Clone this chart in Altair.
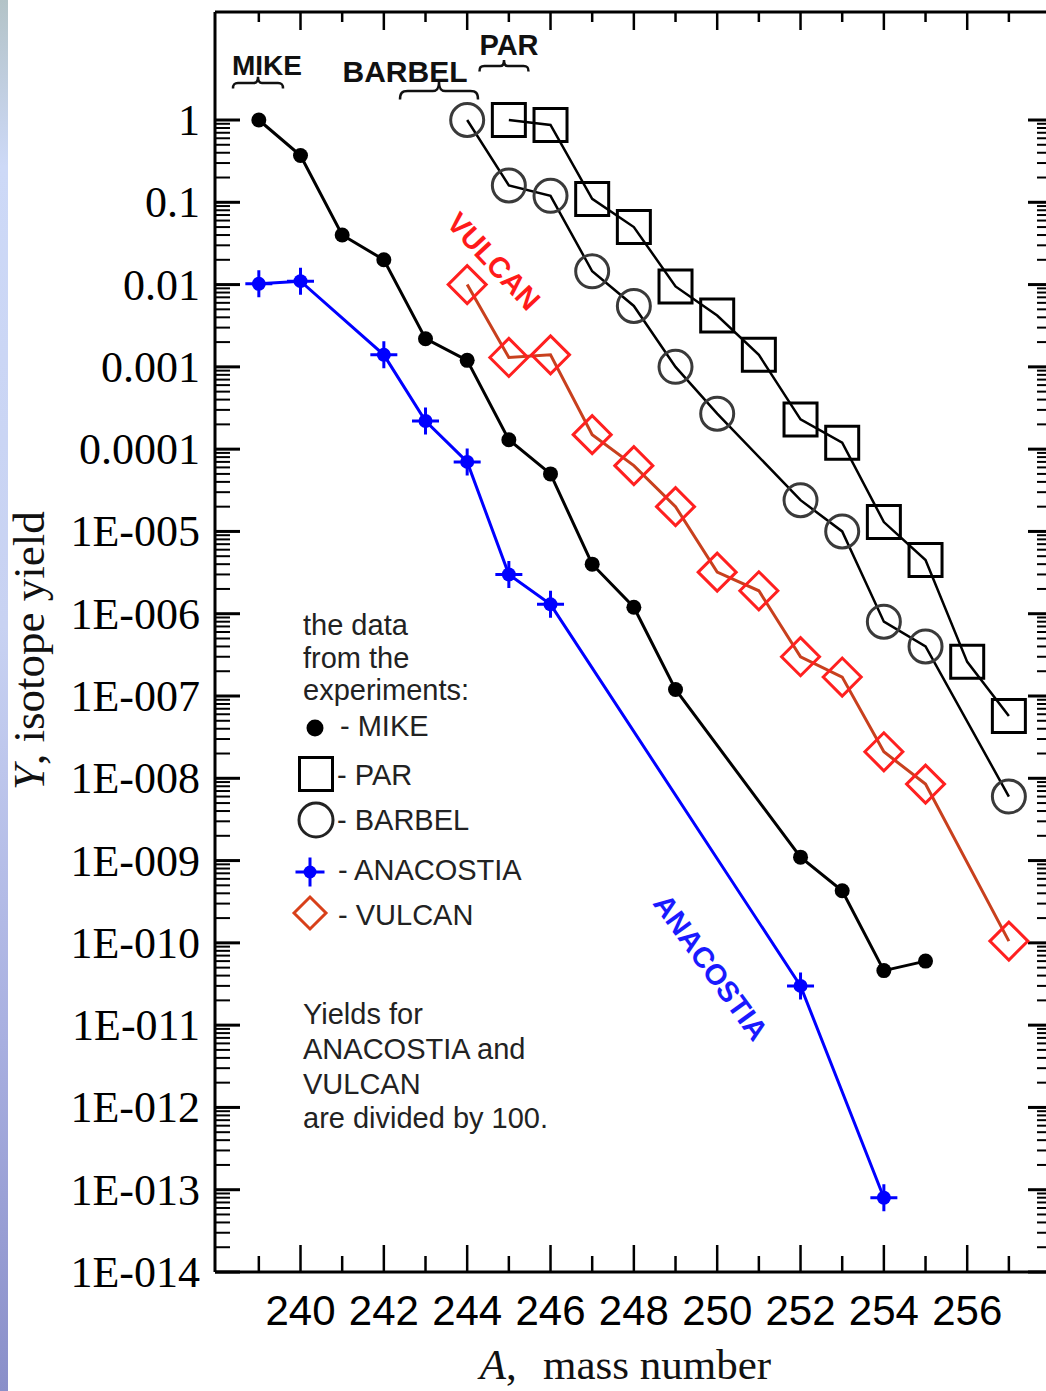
import altair as alt
import pandas as pd

# ---------------- data ----------------
mike_A = [239, 240, 241, 242, 243, 244, 245, 246, 247, 248, 249, 252, 253, 254, 255]
mike_Y = [1.0, 0.37, 0.04, 0.02, 0.0022, 0.0012, 1.3e-4, 5.0e-5, 4.0e-6, 1.2e-6, 1.2e-7,
          1.1e-9, 4.3e-10, 4.6e-11, 6.0e-11]

par_A = [245, 246, 247, 248, 249, 250, 251, 252, 253, 254, 255, 256, 257]
par_Y = [1.0, 0.87, 0.11, 0.05, 0.0095, 0.0042, 0.0014, 2.3e-4, 1.2e-4, 1.3e-5, 4.5e-6,
         2.6e-7, 5.7e-8]

barbel_A = [244, 245, 246, 247, 248, 249, 250, 252, 253, 254, 255, 257]
barbel_Y = [1.0, 0.16, 0.12, 0.0145, 0.0055, 0.001, 2.7e-4, 2.4e-5, 1.0e-5, 8.0e-7, 4.0e-7,
            6.0e-9]

anacostia_A = [239, 240, 242, 243, 244, 245, 246, 252, 254]
anacostia_Y = [0.0102, 0.011, 0.0014, 2.2e-4, 7.0e-5, 3.0e-6, 1.3e-6, 3.0e-11, 8.0e-14]

vulcan_A = [244, 245, 246, 247, 248, 249, 250, 251, 252, 253, 254, 255, 257]
vulcan_Y = [0.01, 0.0013, 0.0014, 1.5e-4, 6.3e-5, 2.0e-5, 3.2e-6, 1.9e-6, 3.0e-7, 1.7e-7,
            2.1e-8, 8.5e-9, 1.05e-10]

# tick values and labels
x_label_values = [240, 242, 244, 246, 248, 250, 252, 254, 256]
x_tick_labels = ["240", "242", "244", "246", "248", "250", "252", "254", "256"]
x_major_ticks = [240, 242, 244, 246, 248, 250, 252, 254, 256]
x_minor_ticks = [239, 241, 243, 245, 247, 249, 251, 253, 255, 257]
y_major_ticks = [1, 1e-1, 1e-2, 1e-3, 1e-4, 1e-5, 1e-6, 1e-7, 1e-8, 1e-9, 1e-10,
                 1e-11, 1e-12, 1e-13, 1e-14]
y_tick_labels = ["1", "0.1", "0.01", "0.001", "0.0001", "1E-005", "1E-006", "1E-007",
                 "1E-008", "1E-009", "1E-010", "1E-011", "1E-012", "1E-013", "1E-014"]
y_minor_ticks = [float(f"{k}e{n}") for n in range(-14, 0) for k in range(2, 10)]

# ---------------- layout ----------------
W, H = 831, 1260
xs = alt.Scale(domain=[237.948, 257.891], nice=False, zero=False)
ys = alt.Scale(type="log", domain=[1e-14, 20.54], nice=False)
one = pd.DataFrame({"k": [0]})

SANS = "Liberation Sans"
SERIF = "Liberation Serif"


def df(a, y):
    return pd.DataFrame({"A": a, "Y": y})


def XE():
    return alt.X("A:Q", scale=xs, axis=None)


def YE():
    return alt.Y("Y:Q", scale=ys, axis=None)


def txt(s, x, y, size=29, font=SANS, weight="normal", style="normal", color="#222222",
        angle=0, align="left", baseline="alphabetic"):
    return alt.Chart(one).mark_text(
        text=s, font=font, fontSize=size, fontWeight=weight, fontStyle=style,
        color=color, angle=angle, align=align, baseline=baseline
    ).encode(x=alt.value(x), y=alt.value(y))


def sym(x, y, shape, size, color, filled, sw=3):
    return alt.Chart(one).mark_point(
        shape=shape, size=size, color=color, filled=filled, strokeWidth=sw, opacity=1
    ).encode(x=alt.value(x), y=alt.value(y))


CROSS = "M-1,0H1M0,-1V1"
BRACE = ("M-1,0.22 C-1,0.05 -0.95,0 -0.8,0 L-0.16,0 C-0.05,0 0,-0.06 0,-0.25 "
         "C0,-0.06 0.05,0 0.16,0 L0.8,0 C0.95,0 1,0.05 1,0.22")

layers = []

# left decorative strip (slide background)
strip = alt.Chart(one).mark_rect(
    color=alt.LinearGradient(
        gradient="linear",
        stops=[alt.GradientStop(offset=0, color="#b3c3c7"),
               alt.GradientStop(offset=0.12, color="#cdd9f7"),
               alt.GradientStop(offset=0.45, color="#c8d2f2"),
               alt.GradientStop(offset=0.75, color="#a8afe0"),
               alt.GradientStop(offset=1, color="#8a8fc9")],
        x1=0, x2=0, y1=0, y2=1)
).encode(x=alt.value(-215), x2=alt.value(-207), y=alt.value(-12), y2=alt.value(1379))
layers.append(strip)

# frame: top, left, bottom (right edge lies at the picture border)
layers += [
    alt.Chart(one).mark_rule(color="black", strokeWidth=3).encode(
        x=alt.value(0), x2=alt.value(W), y=alt.value(0)),
    alt.Chart(one).mark_rule(color="black", strokeWidth=3).encode(
        x=alt.value(0), x2=alt.value(W), y=alt.value(H)),
    alt.Chart(one).mark_rule(color="black", strokeWidth=3).encode(
        x=alt.value(0), y=alt.value(0), y2=alt.value(H)),
]

# inward ticks
xmaj = pd.DataFrame({"A": x_major_ticks})
xmin = pd.DataFrame({"A": x_minor_ticks})
ymaj = pd.DataFrame({"Y": y_major_ticks})
ymin = pd.DataFrame({"Y": y_minor_ticks})
layers += [
    alt.Chart(xmaj).mark_rule(color="black", strokeWidth=2.5).encode(
        x=XE(), y=alt.value(H), y2=alt.value(H - 27)),
    alt.Chart(xmin).mark_rule(color="black", strokeWidth=2.5).encode(
        x=XE(), y=alt.value(H), y2=alt.value(H - 16)),
    alt.Chart(xmaj).mark_rule(color="black", strokeWidth=2.5).encode(
        x=XE(), y=alt.value(0), y2=alt.value(18)),
    alt.Chart(xmin).mark_rule(color="black", strokeWidth=2.5).encode(
        x=XE(), y=alt.value(0), y2=alt.value(10)),
    alt.Chart(ymaj).mark_rule(color="black", strokeWidth=3).encode(
        y=YE(), x=alt.value(0), x2=alt.value(25)),
    alt.Chart(ymin).mark_rule(color="black", strokeWidth=2).encode(
        y=YE(), x=alt.value(0), x2=alt.value(15)),
    alt.Chart(ymaj).mark_rule(color="black", strokeWidth=3).encode(
        y=YE(), x=alt.value(W), x2=alt.value(W - 18)),
    alt.Chart(ymin).mark_rule(color="black", strokeWidth=2).encode(
        y=YE(), x=alt.value(W), x2=alt.value(W - 9)),
]

# tick labels, placed through the scales
xlab = pd.DataFrame({"A": x_label_values, "lab": x_tick_labels})
ylab = pd.DataFrame({"Y": y_major_ticks, "lab": y_tick_labels})
layers += [
    alt.Chart(xlab).mark_text(font=SANS, fontSize=42, color="black", align="center",
                              baseline="alphabetic").encode(
        x=XE(), y=alt.value(H + 53), text="lab:N"),
    alt.Chart(ylab).mark_text(font=SERIF, fontSize=44, color="black", align="right",
                              baseline="alphabetic", dy=15).encode(
        y=YE(), x=alt.value(-15), text="lab:N"),
]

# series lines
layers += [
    alt.Chart(df(mike_A, mike_Y)).mark_line(color="black", strokeWidth=3).encode(x=XE(), y=YE()),
    alt.Chart(df(par_A, par_Y)).mark_line(color="black", strokeWidth=2.5).encode(x=XE(), y=YE()),
    alt.Chart(df(barbel_A, barbel_Y)).mark_line(color="black", strokeWidth=2.5).encode(x=XE(), y=YE()),
    alt.Chart(df(anacostia_A, anacostia_Y)).mark_line(color="#0000ff", strokeWidth=3).encode(x=XE(), y=YE()),
    alt.Chart(df(vulcan_A, vulcan_Y)).mark_line(color="#c8401e", strokeWidth=3).encode(x=XE(), y=YE()),
]

# series markers
layers += [
    alt.Chart(df(mike_A, mike_Y)).mark_point(shape="circle", size=225, color="black",
                                             filled=True, opacity=1).encode(x=XE(), y=YE()),
    alt.Chart(df(par_A, par_Y)).mark_point(shape="square", size=1089, color="black",
                                           filled=False, strokeWidth=3, opacity=1).encode(x=XE(), y=YE()),
    alt.Chart(df(barbel_A, barbel_Y)).mark_point(shape="circle", size=1089, color="#3a3a3a",
                                                 filled=False, strokeWidth=3, opacity=1).encode(x=XE(), y=YE()),
    alt.Chart(df(anacostia_A, anacostia_Y)).mark_point(shape="circle", size=196, color="#0000ff",
                                                       filled=True, opacity=1).encode(x=XE(), y=YE()),
    alt.Chart(df(anacostia_A, anacostia_Y)).mark_point(shape=CROSS, size=729, color="#0000ff",
                                                       filled=False, strokeWidth=3, opacity=1).encode(x=XE(), y=YE()),
    alt.Chart(df(vulcan_A, vulcan_Y)).mark_point(shape="diamond", size=1444, color="#ff2020",
                                                 filled=False, strokeWidth=3, opacity=1).encode(x=XE(), y=YE()),
]

# top annotations with braces
layers += [
    txt("MIKE", 52, 63, size=28, weight="bold", color="#111111", align="center"),
    txt("BARBEL", 190, 70, size=30, weight="bold", color="#111111", align="center"),
    txt("PAR", 294, 43, size=29, weight="bold", color="#111111", align="center"),
    sym(43, 71, BRACE, 2500, "#111111", False, sw=2.5),
    sym(224, 79, BRACE, 6084, "#111111", False, sw=2.5),
    sym(289, 54, BRACE, 2401, "#111111", False, sw=2.5),
]

# rotated series labels
layers += [
    txt("VULCAN", 278, 250, size=29, weight="bold", color="#ff1a1a", angle=47,
        align="center", baseline="middle"),
    txt("ANACOSTIA", 495, 956, size=29, weight="bold", color="#1a1aff", angle=54,
        align="center", baseline="middle"),
]

# legend block
layers += [
    txt("the data", 88, 623),
    txt("from the", 88, 656),
    txt("experiments:", 88, 688),
    sym(100, 716, "circle", 289, "black", True),
    txt("- MIKE", 125, 724),
    sym(101, 762, "square", 1089, "black", False),
    txt("- PAR", 122, 773),
    sym(101, 808, "circle", 1156, "#222222", False),
    txt("- BARBEL", 122, 818),
    sym(95, 860, "circle", 169, "#0000ff", True),
    sym(95, 860, CROSS, 841, "#0000ff", False),
    txt("- ANACOSTIA", 123, 868),
    sym(95, 901, "diamond", 1024, "#d8401a", False),
    txt("- VULCAN", 123, 913),
    txt("Yields for", 88, 1012),
    txt("ANACOSTIA and", 88, 1047),
    txt("VULCAN", 88, 1082),
    txt("are divided by 100.", 88, 1116),
]

# axis titles
layers += [
    txt("A", 291, 1367, size=43, font=SERIF, style="italic", color="#111111", align="right"),
    txt(",", 291, 1367, size=43, font=SERIF, color="#111111"),
    txt("mass number", 328, 1367, size=43, font=SERIF, color="#111111"),
    txt("Y", -171, 778, size=45, font=SERIF, style="italic", color="#111111", angle=270),
    txt(", isotope yield", -171, 753, size=45, font=SERIF, color="#111111", angle=270),
]

chart = alt.layer(*layers).properties(
    width=W, height=H,
    padding={"left": 215, "top": 12, "right": 0, "bottom": 119},
    autosize=alt.AutoSizeParams(type="none"),
    background="white",
).configure_view(strokeWidth=0)

chart.save("out.html", embed_options={"renderer": "svg", "actions": False})
